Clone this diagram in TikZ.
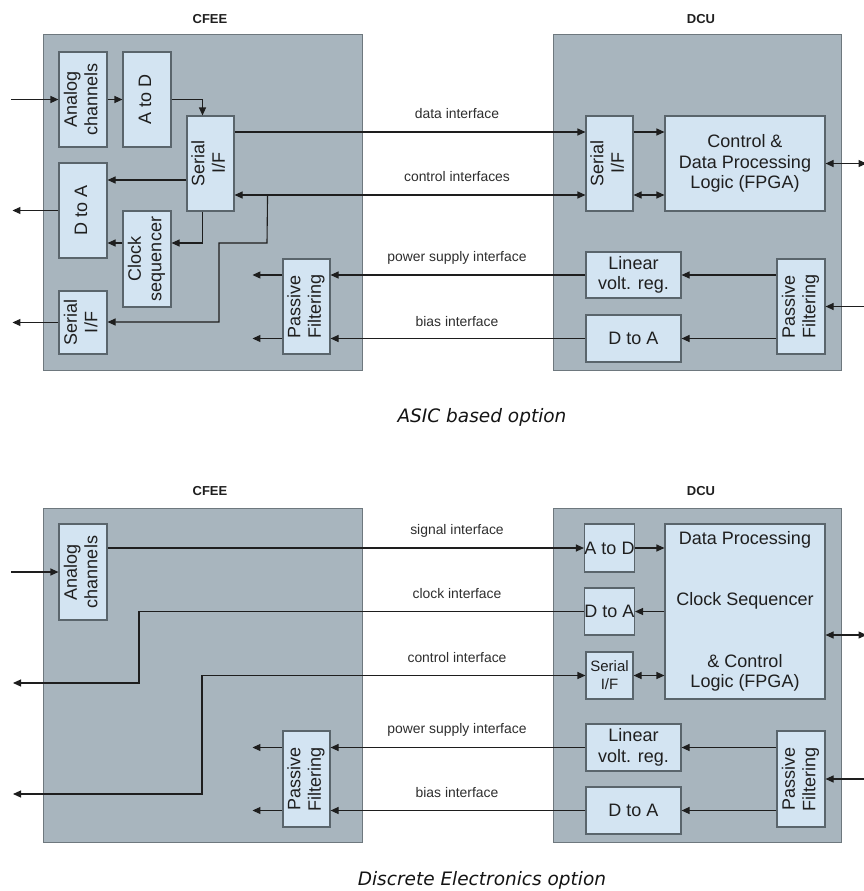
\documentclass[tikz,border=0pt]{standalone}
\usepackage{fontspec}
\setmainfont{Liberation Sans}
\newfontfamily\capfont{DejaVu Sans}
\usepackage{xcolor}
\usepackage{tikz}
\usetikzlibrary{
  positioning,
  arrows.meta
}
\definecolor{unitgrey}{HTML}{A8B5BE}
\definecolor{unitedge}{HTML}{6E787E}
\definecolor{blocklight}{HTML}{D3E4F2}
\definecolor{blockedge}{HTML}{5A656C}
\definecolor{wirecol}{HTML}{1E1E1E}
\newcommand{\vlab}[1]{\rotatebox{90}{\begin{tabular}{@{}c@{}}#1\end{tabular}}}

\begin{document}
\begin{tikzpicture}[x=1pt, y=-1pt,
  unit/.style={fill=unitgrey, draw=unitedge, line width=1pt},
  blk/.style={draw=blockedge, fill=blocklight, line width=1.1pt, inner sep=0pt,
    align=center, text=black!88, font=\fontsize{18}{20.5}\selectfont},
  wire/.style={draw=wirecol, line width=1.1pt},
  arr/.style={wire, -{Triangle[length=8pt,width=7pt]}},
  darr/.style={wire, {Triangle[length=8pt,width=7pt]}-{Triangle[length=8pt,width=7pt]}},
  ifl/.style={font=\fontsize{13.9}{16}\selectfont, text=black!82},
  unitname/.style={font=\bfseries\fontsize{13}{15}\selectfont, text=black!88},
  captxt/.style={font=\capfont\itshape\fontsize{18.5}{21}\selectfont, text=black!92}]

  \path[use as bounding box, fill=white] (0,0) rectangle (864,891);

  % ===== ASIC 方案 =====
  \draw[unit] (43,35) rectangle (362,370);
  \draw[unit] (553,35) rectangle (841,370);
  \node[unitname] (cfeeA) at (210,19) {CFEE};
  \node[unitname] (dcuA) at (701,19) {DCU};

  % CFEE 内部模块
  \node[blk, minimum width=48, minimum height=95] (ana1) at (83,99.5) {\vlab{Analog\\channels}};
  \node[blk, minimum width=48, minimum height=95] (atod1) at (147,99.5) {\vlab{A to D}};
  \node[blk, minimum width=47, minimum height=95] (cser1) at (210.5,163.5) {\vlab{Serial\\I/F}};
  \node[blk, minimum width=48, minimum height=95] (dtoa1) at (83,210.5) {\vlab{D to A}};
  \node[blk, minimum width=48, minimum height=96] (clk1) at (147,259) {\vlab{Clock\\sequencer}};
  \node[blk, minimum width=48, minimum height=63] (sser1) at (83,322.5) {\vlab{Serial\\I/F}};
  \node[blk, minimum width=47, minimum height=95] (pf1c) at (306.5,306.5) {\vlab{Passive\\Filtering}};

  % DCU 内部模块
  \node[blk, minimum width=47, minimum height=95] (dser1) at (609.5,163.5) {\vlab{Serial\\I/F}};
  \node[blk, minimum width=160, minimum height=95] (fpga1) at (745,163.5) {Control \&\\Data Processing\\Logic (FPGA)};
  \node[blk, minimum width=95, minimum height=46] (lvr1) at (633.5,275) {Linear\\volt. reg.};
  \node[blk, minimum width=95, minimum height=47] (dtoa1d) at (633.5,338.5) {D to A};
  \node[blk, minimum width=48, minimum height=95] (pf1d) at (801,306.5) {\vlab{Passive\\Filtering}};

  % 接口标注
  \node[ifl] (lbdataA) at (457,114) {data interface};
  \node[ifl] (lbctrlA) at (457,177) {control interfaces};
  \node[ifl] (lbpowA) at (457,258) {power supply interface};
  \node[ifl] (lbbiasA) at (457,322) {bias interface};

  % CFEE 连线
  \draw[arr] ([xshift=-47pt]ana1.west) -- (ana1.west);
  \draw[arr] (ana1.east) -- (atod1.west);
  \draw[arr] (atod1.east) -| ([xshift=-8pt]cser1.north);
  \draw[arr] (cser1.west |- 0,180) -- (dtoa1.east |- 0,180);
  \draw[arr] (dtoa1.west) -- ([xshift=-46pt]dtoa1.west);
  \draw[arr] ([xshift=-8pt]cser1.south) |- (clk1.east |- 0,243);
  \draw[arr] (clk1.west |- 0,243) -- (dtoa1.east |- 0,243);
  \draw[arr] ([xshift=33pt]cser1.east |- 0,195) -- (267,243) -| (219,322) -- (sser1.east |- 0,322);
  \draw[arr] (sser1.west) -- ([xshift=-46pt]sser1.west);
  \draw[arr] (pf1c.west |- lvr1.west) -- ++(-30,0);
  \draw[arr] (pf1c.west |- dtoa1d.west) -- ++(-30,0);

  % 两单元之间
  \draw[arr] (cser1.east |- 0,132) -- (dser1.west |- 0,132);
  \draw[darr] (cser1.east |- 0,195) -- (dser1.west |- 0,195);
  \draw[arr] (lvr1.west) -- (pf1c.east |- lvr1.west);
  \draw[arr] (dtoa1d.west) -- (pf1c.east |- dtoa1d.west);

  % DCU 连线
  \draw[arr] (dser1.east |- 0,132) -- (fpga1.west |- 0,132);
  \draw[darr] (dser1.east |- 0,195) -- (fpga1.west |- 0,195);
  \draw[darr] (fpga1.east) -- ([xshift=41pt]fpga1.east);
  \draw[arr] ([xshift=41pt]pf1d.east) -- (pf1d.east);
  \draw[arr] (pf1d.west |- lvr1.east) -- (lvr1.east);
  \draw[arr] (pf1d.west |- dtoa1d.east) -- (dtoa1d.east);

  \node[captxt] (capA) at (482,417) {ASIC based option};

  % ===== 分立电子方案 =====
  \draw[unit] (43,508) rectangle (362,842);
  \draw[unit] (553,508) rectangle (841,842);
  \node[unitname] (cfeeB) at (210,491) {CFEE};
  \node[unitname] (dcuB) at (701,491) {DCU};

  \node[blk, minimum width=48, minimum height=96] (ana2) at (83,572) {\vlab{Analog\\channels}};
  \node[blk, minimum width=47, minimum height=96] (pf2c) at (306.5,779) {\vlab{Passive\\Filtering}};

  \node[blk, minimum width=47, minimum height=48] (atod2) at (609.5,548) {A to D};
  \node[blk, minimum width=47, minimum height=47] (dtoa2s) at (609.5,611.5) {D to A};
  \node[blk, minimum width=47, minimum height=47, font=\fontsize{15}{18}\selectfont] (ser2) at (609.5,675.5) {Serial\\I/F};
  \node[blk, minimum width=160, minimum height=175] (fpga2) at (745,611.5)
    {Data Processing\\[41pt]Clock Sequencer\\[41pt]\& Control\\Logic (FPGA)};
  \node[blk, minimum width=95, minimum height=47] (lvr2) at (633.5,747.5) {Linear\\volt. reg.};
  \node[blk, minimum width=95, minimum height=47] (dtoa2) at (633.5,810.5) {D to A};
  \node[blk, minimum width=48, minimum height=96] (pf2d) at (801,779) {\vlab{Passive\\Filtering}};

  \node[ifl] (lbsigB) at (457,531) {signal interface};
  \node[ifl] (lbclkB) at (457,594) {clock interface};
  \node[ifl] (lbctrlB) at (457,658) {control interface};
  \node[ifl] (lbpowB) at (457,730) {power supply interface};
  \node[ifl] (lbbiasB) at (457,793) {bias interface};

  % CFEE 连线
  \draw[arr] ([xshift=-47pt]ana2.west) -- (ana2.west);
  \draw[arr] (ana2.east |- atod2.west) -- (atod2.west);
  \draw[arr] (dtoa2s.west) -| (139,683) -- ([xshift=-126pt]139,683);
  \draw[darr] ([xshift=-189pt]202,794) -| (202,675.5) -- (ser2.west);
  \draw[arr] (pf2c.west |- lvr2.west) -- ++(-30,0);
  \draw[arr] (pf2c.west |- dtoa2.west) -- ++(-30,0);
  \draw[arr] (lvr2.west) -- (pf2c.east |- lvr2.west);
  \draw[arr] (dtoa2.west) -- (pf2c.east |- dtoa2.west);

  % DCU 连线
  \draw[arr] (atod2.east) -- (fpga2.west |- atod2.east);
  \draw[arr] (fpga2.west |- dtoa2s.east) -- (dtoa2s.east);
  \draw[darr] (ser2.east) -- (fpga2.west |- ser2.east);
  \draw[darr] (fpga2.east |- 0,635) -- ([xshift=41pt]fpga2.east |- 0,635);
  \draw[arr] ([xshift=41pt]pf2d.east) -- (pf2d.east);
  \draw[arr] (pf2d.west |- lvr2.east) -- (lvr2.east);
  \draw[arr] (pf2d.west |- dtoa2.east) -- (dtoa2.east);

  \node[captxt] (capB) at (482,880) {Discrete Electronics option};
\end{tikzpicture}
\end{document}
